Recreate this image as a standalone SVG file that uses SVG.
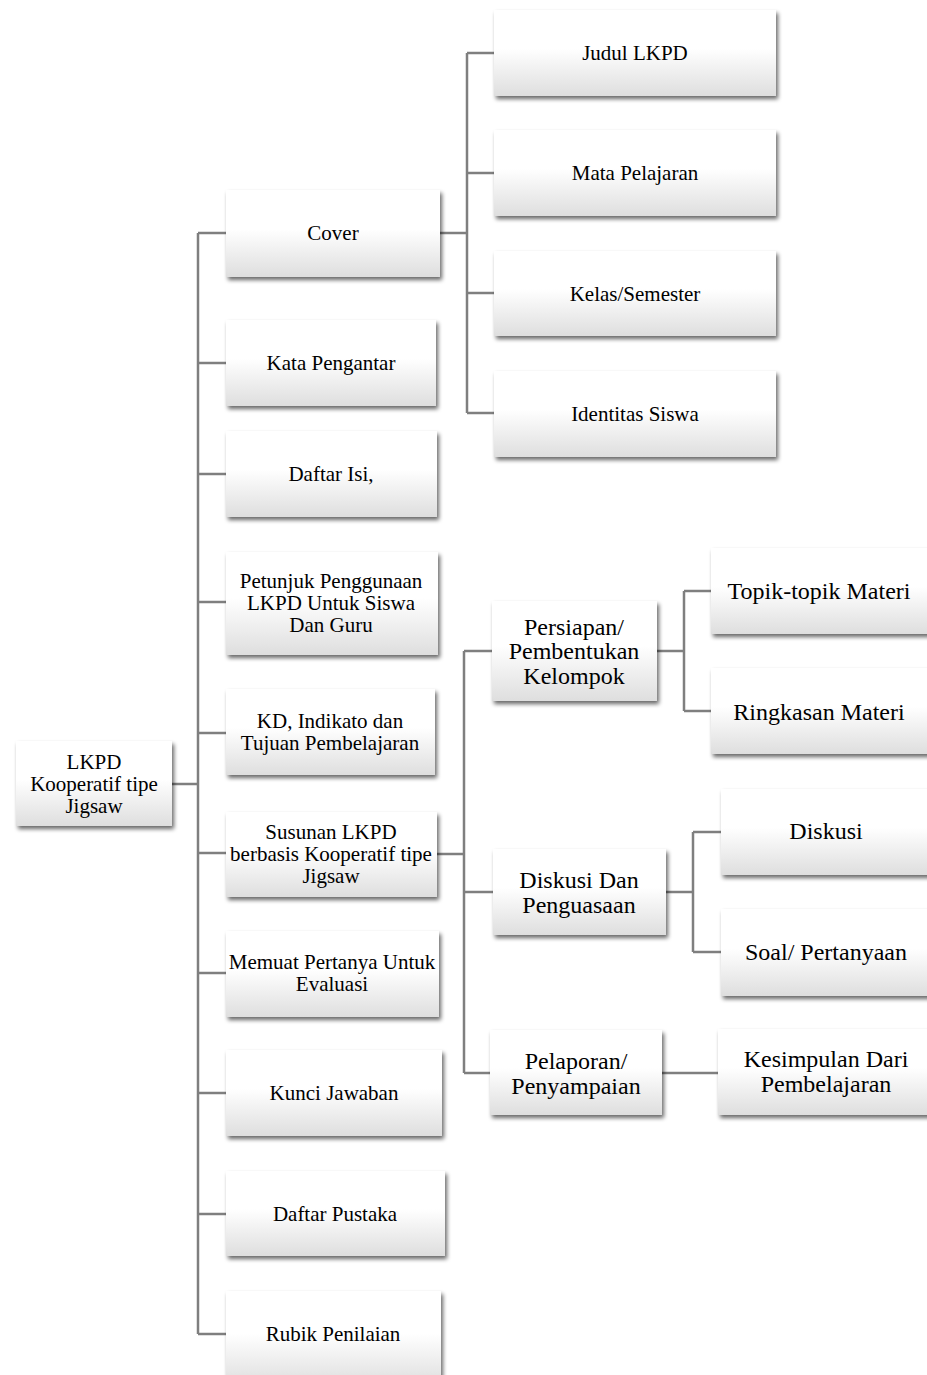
<svg xmlns="http://www.w3.org/2000/svg" width="927" height="1375" viewBox="0 0 927 1375">
<defs>
<linearGradient id="g" x1="0" y1="0" x2="0" y2="1">
<stop offset="0" stop-color="#ffffff"/>
<stop offset="0.45" stop-color="#ffffff"/>
<stop offset="1" stop-color="#dedede"/>
</linearGradient>
<filter id="sh" x="-10%" y="-10%" width="125%" height="130%">
<feGaussianBlur in="SourceAlpha" stdDeviation="2"/>
<feOffset dx="2" dy="3" result="o"/>
<feComponentTransfer><feFuncA type="linear" slope="0.6"/></feComponentTransfer>
<feMerge><feMergeNode/><feMergeNode in="SourceGraphic"/></feMerge>
</filter>
<style>
.b{fill:url(#g);filter:url(#sh);}
.t{font-family:"Liberation Serif","Times New Roman",serif;font-size:21px;fill:#000;text-anchor:middle;}
.L{font-size:24px;}
.c{fill:none;stroke:#7f7f7f;stroke-width:2.5;}
</style>
</defs>
<rect width="927" height="1375" fill="#ffffff"/>
<g id="connectors">
<path class="c" d="M172,784H198M198,233V1334M198,233H226M198,363H226M198,474H226M198,602H226M198,733H226M198,853H226M198,973H226M198,1093H226M198,1214H226M198,1334H226"/>
<path class="c" d="M440,233H467M467,53V413M467,53H494M467,173H494M467,293H494M467,413H494"/>
<path class="c" d="M437,854H464M464,651V1073M464,651H492M464,892H493M464,1073H490"/>
<path class="c" d="M657,651H684M684,591V711M684,591H711M684,711H711"/>
<path class="c" d="M666,892H693M693,832V952M693,832H721M693,952H721"/>
<path class="c" d="M662,1073H718"/>
</g>
<g id="root"><rect class="b" x="16" y="741" width="156" height="85"/><text class="t" x="94" y="769">LKPD</text><text class="t" x="94" y="791">Kooperatif tipe</text><text class="t" x="94" y="813">Jigsaw</text></g>
<g id="cover"><rect class="b" x="226" y="190" width="214" height="87"/><text class="t" x="333" y="240">Cover</text></g>
<g id="kata"><rect class="b" x="226" y="320" width="210" height="86"/><text class="t" x="331" y="370">Kata Pengantar</text></g>
<g id="daftarisi"><rect class="b" x="226" y="431" width="211" height="86"/><text class="t" x="331" y="481">Daftar Isi,</text></g>
<g id="petunjuk"><rect class="b" x="226" y="552" width="212" height="103"/><text class="t" x="331" y="588">Petunjuk Penggunaan</text><text class="t" x="331" y="610">LKPD Untuk Siswa</text><text class="t" x="331" y="632">Dan Guru</text></g>
<g id="kd"><rect class="b" x="226" y="689" width="209" height="86"/><text class="t" x="330" y="728">KD, Indikato dan</text><text class="t" x="330" y="750">Tujuan Pembelajaran</text></g>
<g id="susunan"><rect class="b" x="226" y="812" width="211" height="85"/><text class="t" x="331" y="839">Susunan LKPD</text><text class="t" x="331" y="861">berbasis Kooperatif tipe</text><text class="t" x="331" y="883">Jigsaw</text></g>
<g id="memuat"><rect class="b" x="226" y="931" width="213" height="86"/><text class="t" x="332" y="969">Memuat Pertanya Untuk</text><text class="t" x="332" y="991">Evaluasi</text></g>
<g id="kunci"><rect class="b" x="226" y="1050" width="216" height="86"/><text class="t" x="334" y="1100">Kunci Jawaban</text></g>
<g id="pustaka"><rect class="b" x="226" y="1171" width="219" height="85"/><text class="t" x="335" y="1221">Daftar Pustaka</text></g>
<g id="rubik"><rect class="b" x="226" y="1291" width="215" height="95"/><text class="t" x="333" y="1341">Rubik Penilaian</text></g>
<g id="judul"><rect class="b" x="494" y="10" width="282" height="86"/><text class="t" x="635" y="60">Judul LKPD</text></g>
<g id="mapel"><rect class="b" x="494" y="130" width="282" height="86"/><text class="t" x="635" y="180">Mata Pelajaran</text></g>
<g id="kelas"><rect class="b" x="494" y="251" width="282" height="85"/><text class="t" x="635" y="301">Kelas/Semester</text></g>
<g id="identitas"><rect class="b" x="494" y="371" width="282" height="86"/><text class="t" x="635" y="421">Identitas Siswa</text></g>
<g id="persiapan"><rect class="b" x="492" y="601" width="165" height="100"/><text class="t L" x="574" y="635">Persiapan/</text><text class="t L" x="574" y="659">Pembentukan</text><text class="t L" x="574" y="684">Kelompok</text></g>
<g id="diskusidan"><rect class="b" x="493" y="849" width="173" height="86"/><text class="t L" x="579" y="888">Diskusi Dan</text><text class="t L" x="579" y="913">Penguasaan</text></g>
<g id="pelaporan"><rect class="b" x="490" y="1030" width="172" height="85"/><text class="t L" x="576" y="1069">Pelaporan/</text><text class="t L" x="576" y="1094">Penyampaian</text></g>
<g id="topik"><rect class="b" x="711" y="548" width="222" height="86"/><text class="t L" x="819" y="599">Topik-topik Materi</text></g>
<g id="ringkasan"><rect class="b" x="711" y="668" width="222" height="86"/><text class="t L" x="819" y="720">Ringkasan Materi</text></g>
<g id="diskusi"><rect class="b" x="721" y="789" width="212" height="86"/><text class="t L" x="826" y="839">Diskusi</text></g>
<g id="soal"><rect class="b" x="721" y="909" width="212" height="87"/><text class="t L" x="826" y="960">Soal/ Pertanyaan</text></g>
<g id="kesimpulan"><rect class="b" x="718" y="1029" width="215" height="86"/><text class="t L" x="826" y="1067">Kesimpulan Dari</text><text class="t L" x="826" y="1092">Pembelajaran</text></g>
</svg>
